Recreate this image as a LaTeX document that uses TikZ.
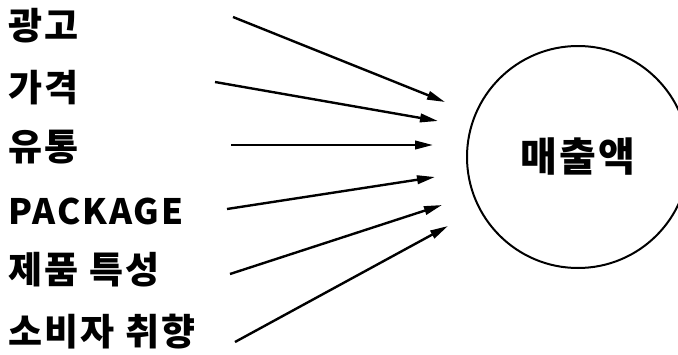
\documentclass[tikz,border=0pt]{standalone}
\usepackage{fontspec}
\newfontfamily\kr{Noto Sans CJK KR}[LetterSpace=6]
\usepackage{tikz}
\usetikzlibrary{arrows.meta,positioning}
\tikzset{
    factor label/.style={
        anchor=west,inner sep=0pt,
        font=\kr\bfseries\fontsize{37}{37}\selectfont
    },
    sales circle/.style={
        draw,circle,line width=2pt,
        minimum size=222pt,inner sep=0pt,
        font=\kr\bfseries\fontsize{40}{40}\selectfont
    },
    factor arrow/.style={line width=2.4pt},
    >={Triangle[length=18pt,width=8.5pt]}
}
\begin{document}
\begin{tikzpicture}[x=1pt,y=-1pt]
\useasboundingbox (0,0) rectangle (678,354);
\node[sales circle] (sales) at (578,157) {매출액};
% factors on the left, each with its own arrow towards the circle
\foreach \i/\txt/\ly/\sx/\sy/\ex/\ey in {
    1/광고/26/233/17/445/102,
    2/가격/88/215/82/438/121,
    3/유통/147/231/145/433/145,
    4/{\fontsize{35}{35}\selectfont PACKAGE}/211/227/209/435/177,
    5/제품 특성/270/230/274/442/205,
    6/소비자 취향/332/235/342/448/226}
{
    \node[factor label] (factor_\i) at (8,\ly) {\txt};
    \coordinate (start_\i) at (\sx,\sy);
    \coordinate (end_\i) at (\ex,\ey);
    \draw[factor arrow,->] (start_\i) -- (end_\i);
}
\end{tikzpicture}
\end{document}
